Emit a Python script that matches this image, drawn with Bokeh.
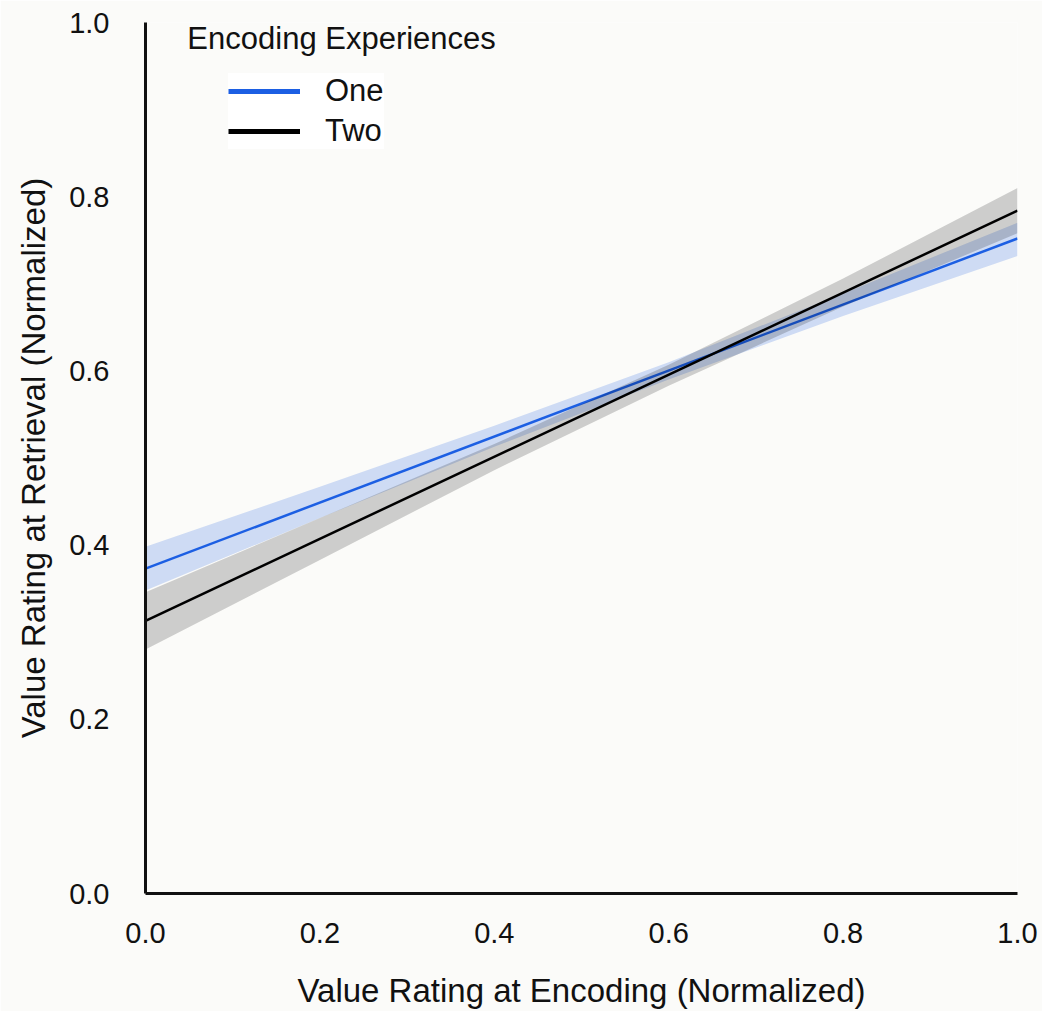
from bokeh.plotting import figure
from bokeh.models import Range1d, Legend, LegendItem, Label, FixedTicker
from bokeh.embed import file_html
from bokeh.resources import INLINE

# ---- data ----
x_line = [0.0, 1.0]
one_line = [0.373, 0.752]
two_line = [0.313, 0.784]

x_band = [0.0, 0.2, 0.4, 0.6, 0.8, 1.0]
one_lower = [0.348, 0.431, 0.513, 0.590, 0.663, 0.732]
one_upper = [0.398, 0.467, 0.537, 0.610, 0.689, 0.770]
two_lower = [0.280, 0.383, 0.486, 0.583, 0.674, 0.758]
two_upper = [0.346, 0.431, 0.516, 0.607, 0.706, 0.810]

ticks = [0.0, 0.2, 0.4, 0.6, 0.8, 1.0]
tick_labels = {0.0: "0.0", 0.2: "0.2", 0.4: "0.4", 0.6: "0.6", 0.8: "0.8", 1.0: "1.0"}

legend_title = "Encoding Experiences"
series_names = ["One", "Two"]
x_label = "Value Rating at Encoding (Normalized)"
y_label = "Value Rating at Retrieval (Normalized)"

BLUE = "#1c5fe3"
BG = "#fbfbf9"
FONT = "Liberation Sans"
NAN = float("nan")

p = figure(frame_width=872, frame_height=871,
           x_range=Range1d(0, 1), y_range=Range1d(0, 1),
           output_backend="svg", toolbar_location=None,
           min_border_left=145, min_border_top=22,
           min_border_right=25, min_border_bottom=110,
           background_fill_color=BG, border_fill_color=BG)
p.outline_line_color = None
p.grid.visible = False

# bands and lines
p.varea(x=x_band, y1=one_lower, y2=one_upper, fill_color=BLUE, fill_alpha=0.2)
p.line(x_line, one_line, line_color=BLUE, line_width=2.5)
p.varea(x=x_band, y1=two_lower, y2=two_upper, fill_color="black", fill_alpha=0.18)
p.line(x_line, two_line, line_color="black", line_width=2.5)

# legend swatches (thicker, legend only; no visible data)
leg_one = p.line([NAN], [NAN], line_color=BLUE, line_width=5)
leg_two = p.line([NAN], [NAN], line_color="black", line_width=5)

for ax in (p.xaxis[0], p.yaxis[0]):
    ax.ticker = FixedTicker(ticks=ticks)
    ax.major_label_overrides = tick_labels
    ax.major_tick_line_color = None
    ax.minor_tick_line_color = None
    ax.axis_line_width = 3
    ax.axis_line_color = "#111111"
    ax.major_label_text_font = FONT
    ax.major_label_text_font_size = "29px"
    ax.major_label_text_color = "#111111"
    ax.axis_label_text_font = FONT
    ax.axis_label_text_font_size = "33px"
    ax.axis_label_text_font_style = "normal"
    ax.axis_label_text_color = "#111111"

p.xaxis[0].axis_label = x_label
p.yaxis[0].axis_label = y_label
p.xaxis[0].major_label_standoff = 23
p.yaxis[0].major_label_standoff = 30
p.xaxis[0].axis_label_standoff = 26
p.yaxis[0].axis_label_standoff = 14

legend = Legend(items=[LegendItem(label=series_names[0], renderers=[leg_one]),
                       LegendItem(label=series_names[1], renderers=[leg_two])],
                location=(83, 744),
                background_fill_color="white", background_fill_alpha=1.0,
                border_line_color=None,
                label_text_font=FONT, label_text_font_size="31px",
                label_text_color="#111111",
                glyph_width=72, glyph_height=20, label_height=20,
                label_standoff=25, spacing=4, padding=10, margin=0)
p.add_layout(legend, "center")

p.add_layout(Label(x=0.048, y=0.982, text=legend_title,
                   text_font=FONT, text_font_size="31px",
                   text_color="#111111", text_baseline="middle",
                   text_align="left"))

open("out.html", "w").write(file_html(p, INLINE))
